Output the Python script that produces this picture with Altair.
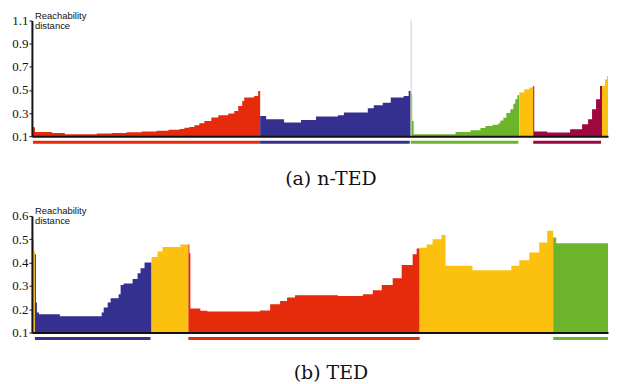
import altair as alt
import pandas as pd

# ---------------- (a) n-TED : reachability plot ----------------
a_red_x = [0, 1, 3, 20, 33, 65, 80, 95, 110, 125, 137, 148, 153, 158, 163, 168, 173, 180, 187, 197, 203, 207, 211, 213, 223, 227]
a_red_v = [0.307, 0.178, 0.137, 0.127, 0.117, 0.123, 0.128, 0.134, 0.14, 0.147, 0.155, 0.163, 0.172, 0.18, 0.195, 0.212, 0.232, 0.261, 0.281, 0.296, 0.318, 0.361, 0.404, 0.434, 0.447, 0.49]
a_blue_x = [229, 235, 253, 270, 285, 307, 313, 337, 343, 352, 360, 373, 378]
a_blue_v = [0.275, 0.247, 0.218, 0.24, 0.27, 0.281, 0.304, 0.341, 0.367, 0.39, 0.434, 0.447, 0.49]
a_green_x = [380, 381.5, 383, 425, 440, 450, 455, 462, 468, 470, 473, 476, 480, 483, 485, 487]
a_green_v = [0.468, 0.232, 0.117, 0.137, 0.152, 0.17, 0.189, 0.2, 0.212, 0.235, 0.26, 0.3, 0.333, 0.38, 0.419, 0.455]
a_yellow1_x = [489, 494, 499, 502]
a_yellow1_v = [0.477, 0.505, 0.522, 0.528]
a_maroon_x = [503, 504, 517, 540, 552, 558, 562, 566, 570]
a_maroon_v = [0.534, 0.14, 0.132, 0.16, 0.203, 0.247, 0.333, 0.419, 0.534]
a_yellow2_x = [572, 575, 577, 580, 583, 586]
a_yellow2_v = [0.534, 0.591, 0.62, 0.66, 0.686, 0.703]
a_seg_names = ["red", "blue", "green", "yellow1", "maroon", "yellow2"]
a_seg_colors = ["red", "blue", "green", "yellow", "maroon", "yellow"]
a_seg_ends = [229, 380, 489, 503, 572, 590]
a_spike_x = [380.5]
a_spike_v = [1.1]
a_bar_start = [1, 229, 380, 503]
a_bar_end = [229, 379, 488, 571]
a_bar_color = ["red", "blue", "green", "maroon"]
a_ticks = [0.1, 0.3, 0.5, 0.7, 0.9, 1.1]

# ---------------- (b) TED : reachability plot ----------------
b_yellow1_x = [0, 1, 2]
b_yellow1_v = [0.54, 0.5, 0.45]
b_blue_x = [3, 4, 5, 7, 28, 70, 72, 76, 79, 87, 89, 92, 101, 106, 109, 113]
b_blue_v = [0.436, 0.229, 0.186, 0.178, 0.17, 0.186, 0.207, 0.229, 0.247, 0.264, 0.304, 0.31, 0.33, 0.354, 0.376, 0.4]
b_yellow2_x = [120, 126, 131, 149]
b_yellow2_v = [0.424, 0.447, 0.467, 0.478]
b_red_x = [157, 158, 159, 169, 176, 229, 239, 249, 256, 264, 307, 332, 342, 351, 362, 371, 382, 386]
b_red_v = [0.478, 0.44, 0.203, 0.193, 0.19, 0.194, 0.221, 0.235, 0.25, 0.26, 0.257, 0.264, 0.281, 0.304, 0.333, 0.39, 0.436, 0.46]
b_yellow3_x = [389, 396, 402, 411, 415, 442, 481, 489, 499, 509, 517]
b_yellow3_v = [0.464, 0.478, 0.5, 0.518, 0.386, 0.367, 0.386, 0.41, 0.443, 0.486, 0.536]
b_green_x = [523, 526, 582]
b_green_v = [0.507, 0.483, 0.49]
b_seg_names = ["yellow1", "blue", "yellow2", "red", "yellow3", "green"]
b_seg_colors = ["yellow", "blue", "yellow", "red", "yellow", "green"]
b_seg_ends = [3, 120, 157, 389, 523, 590]
b_bar_start = [3, 157, 523]
b_bar_end = [119, 389, 590]
b_bar_color = ["blue", "red", "green"]
b_ticks = [0.1, 0.2, 0.3, 0.4, 0.5, 0.6]

color_names = ["red", "blue", "green", "yellow", "maroon"]
color_values = ["#E62A0C", "#35308F", "#6CB52A", "#FBC10E", "#9E0740"]

BASE = 0.1
W = 578
SERIF = "DejaVu Serif"


def steps(names, colors, xs_list, vs_list, ends):
    rows = []
    for name, col, xs, vs, end in zip(names, colors, xs_list, vs_list, ends):
        for x, v in zip(xs, vs):
            rows.append({"x": x, "v": v, "b": BASE, "seg": name, "c": col})
        rows.append({"x": end, "v": vs[-1], "b": BASE, "seg": name, "c": col})
    return pd.DataFrame(rows)


def panel(df, bars, ymax, ticks, height, caption, cap_offset, spike=None):
    xs = alt.Scale(domain=[0, W], nice=False, zero=False, clamp=True)
    ys = alt.Scale(domain=[BASE, ymax], nice=False, zero=False)
    cs = alt.Scale(domain=color_names, range=color_values)
    xaxis = alt.Axis(labels=False, ticks=False, grid=False, title=None,
                     domainColor="#111111", domainWidth=2, zindex=2)
    yaxis = alt.Axis(values=ticks, tickCount=len(ticks), format=".1f", grid=False,
                     title=None, domainColor="#1a1010", domainWidth=2,
                     tickColor="#111111", tickSize=3, labelPadding=1,
                     labelFont="Liberation Serif", labelFontSize=13,
                     labelColor="#111111", labelOverlap=False,
                     labelFlush=False, zindex=2)
    area = alt.Chart(df).mark_area(interpolate="step-after").encode(
        x=alt.X("x:Q", scale=xs, axis=xaxis),
        y=alt.Y("v:Q", scale=ys, axis=yaxis, stack=False),
        y2="b:Q",
        color=alt.Color("c:N", scale=cs, legend=None),
        detail="seg:N",
    )
    layers = [area]
    if spike is not None:
        layers.append(
            alt.Chart(spike).mark_rule(color="#CBC7EA", strokeWidth=1).encode(
                x="x:Q", y="b:Q", y2="v:Q"
            )
        )
    under = alt.Chart(bars).mark_rule(strokeWidth=3, yOffset=6).encode(
        x="s:Q", x2="e:Q", y="b:Q",
        color=alt.Color("c:N", scale=cs, legend=None),
    )
    label = alt.Chart(pd.DataFrame({"x": [0], "y": [ymax]})).mark_text(
        align="left", baseline="alphabetic", dx=3, dy=-2, fontSize=9.5,
        font="Liberation Sans", lineHeight=10, color="#111111"
    ).encode(x="x:Q", y="y:Q", text=alt.value(["Reachability", "distance"]))
    layers += [under, label]
    return alt.layer(*layers).properties(
        width=W, height=height,
        title=alt.TitleParams(caption, orient="bottom", anchor="middle", frame="group",
                              font=SERIF, fontSize=19, fontWeight="normal",
                              color="#111111", offset=cap_offset, dx=11),
    )


df_a = steps(a_seg_names, a_seg_colors,
             [a_red_x, a_blue_x, a_green_x, a_yellow1_x, a_maroon_x, a_yellow2_x],
             [a_red_v, a_blue_v, a_green_v, a_yellow1_v, a_maroon_v, a_yellow2_v],
             a_seg_ends)
df_b = steps(b_seg_names, b_seg_colors,
             [b_yellow1_x, b_blue_x, b_yellow2_x, b_red_x, b_yellow3_x, b_green_x],
             [b_yellow1_v, b_blue_v, b_yellow2_v, b_red_v, b_yellow3_v, b_green_v],
             b_seg_ends)
bars_a = pd.DataFrame({"s": a_bar_start, "e": a_bar_end, "c": a_bar_color, "b": BASE})
bars_b = pd.DataFrame({"s": b_bar_start, "e": b_bar_end, "c": b_bar_color, "b": BASE})
spike_a = pd.DataFrame({"x": a_spike_x, "v": a_spike_v, "b": BASE})

top = panel(df_a, bars_a, 1.1, a_ticks, 116, "(a) n-TED", 26, spike_a)
bottom = panel(df_b, bars_b, 0.6, b_ticks, 117, "(b) TED", 24)

chart = alt.vconcat(top, bottom, spacing=16).properties(
    padding={"left": 3, "top": 1, "right": 0, "bottom": 0}
).configure(
    view=alt.ViewConfig(stroke="transparent"),
    axis=alt.AxisConfig(labelOverlap=False),
)

chart.save("out.html", embed_options={"renderer": "svg", "actions": False})
